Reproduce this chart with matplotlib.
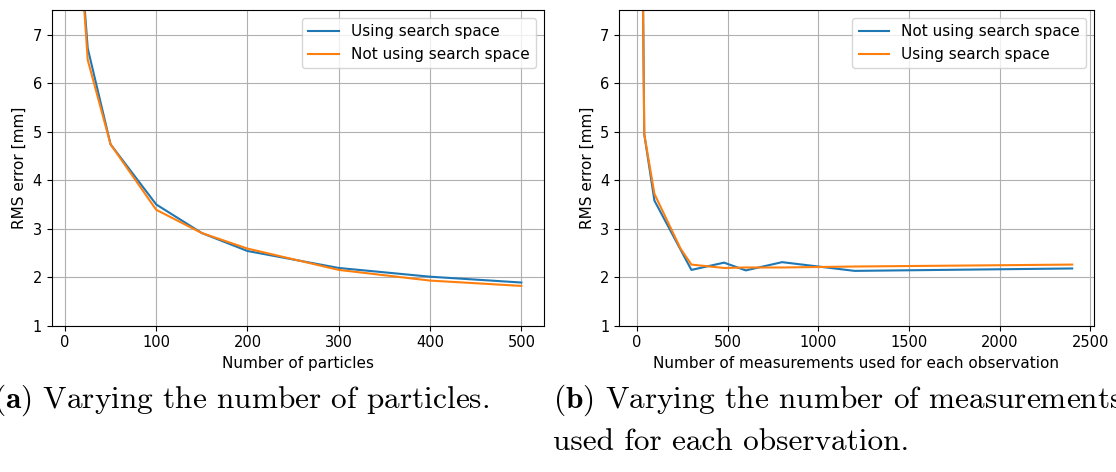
import numpy as np
import matplotlib
matplotlib.use("Agg")
import matplotlib.pyplot as plt

plt.rcParams['mathtext.fontset'] = 'cm'
plt.rcParams['font.size'] = 11

# (a) number of particles
particles = [10, 25, 50, 100, 150, 200, 300, 400, 500]
rms_a_search = [10.4, 6.72, 4.74, 3.50, 2.91, 2.54, 2.19, 2.01, 1.89]
rms_a_nosearch = [10.6, 6.48, 4.74, 3.39, 2.91, 2.59, 2.15, 1.93, 1.82]

# (b) number of measurements per observation
measurements = [20, 40, 96, 240, 300, 480, 600, 800, 1200, 2400]
rms_b_nosearch = [13.0, 4.95, 3.58, 2.57, 2.15, 2.30, 2.14, 2.31, 2.13, 2.18]
rms_b_search = [13.0, 4.95, 3.72, 2.59, 2.26, 2.19, 2.20, 2.20, 2.22, 2.26]

fig = plt.figure(figsize=(11.16, 4.72), dpi=100)
ax1 = fig.add_axes([0.0463, 0.310, 0.4409, 0.6678])
ax2 = fig.add_axes([0.5547, 0.310, 0.4254, 0.6678])

ax1.plot(particles, rms_a_search, label="Using search space")
ax1.plot(particles, rms_a_nosearch, label="Not using search space")
ax1.set_xlabel("Number of particles")

ax2.plot(measurements, rms_b_nosearch, label="Not using search space")
ax2.plot(measurements, rms_b_search, label="Using search space")
ax2.set_xlabel("Number of measurements used for each observation")

for ax in (ax1, ax2):
    ax.set_ylim(1, 7.5)
    ax.set_ylabel("RMS error [mm]")
    ax.grid(True)
    ax.legend(loc="upper right")
    ax.tick_params(labelsize=10.5)

# captions below the panels
cap = dict(family='cmr10', fontsize=22.5, ha='left', va='baseline')
fig.text(-0.006, 1 - 408 / 472, r"$\mathbf{(a)}$ Varying the number of particles.", **cap)
fig.text(0.4955, 1 - 408 / 472, r"$\mathbf{(b)}$ Varying the number of measurements", **cap)
fig.text(0.4955, 1 - 450 / 472, "used for each observation.", **cap)

fig.savefig("out.png", dpi=100)
